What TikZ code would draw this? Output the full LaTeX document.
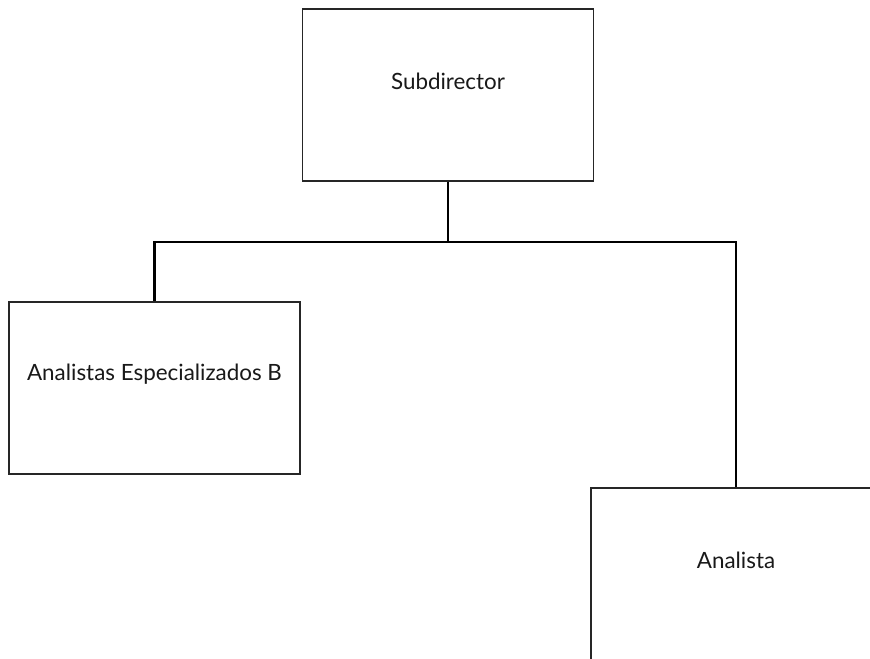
\documentclass[tikz,border=0pt]{standalone}
\usepackage{fontspec}
\setmainfont{Lato}
\begin{document}
\begin{tikzpicture}[x=0.75pt,y=-0.75pt,
  orgbox/.style={draw=black!85,line width=0.8pt,fill=white,inner sep=0pt,
    minimum width=291*0.75pt,minimum height=172*0.75pt},
  boxtext/.style={font=\fontsize{16.8pt}{20pt}\selectfont,text=black!90},
  conn/.style={draw=black,line width=1.6pt}]
  \clip (0,0) rectangle (870,658);
  \useasboundingbox (0,0) rectangle (870,658);
  \fill[white] (0,0) rectangle (870,658);

  % boxes
  \node[orgbox] (sub) at (448,95) {};
  \node[orgbox] (aeb) at (154.5,388) {};
  \node[orgbox,minimum width=290*0.75pt] (an) at (736,574) {};

  % labels, set a little above each box centre
  \node[boxtext] (tsub) at ([yshift=14*0.75pt]sub.center) {Subdirector};
  \node[boxtext] (taeb) at ([yshift=14*0.75pt]aeb.center) {Analistas Especializados B};
  \node[boxtext] (tan) at ([yshift=14*0.75pt]an.center) {Analista};

  % connectors
  \coordinate (bus) at (448,242);
  \draw[conn] (sub.south) -- (bus);
  \draw[conn] (bus) -| (aeb.north);
  \draw[conn] (bus) -| (an.north);
\end{tikzpicture}
\end{document}
